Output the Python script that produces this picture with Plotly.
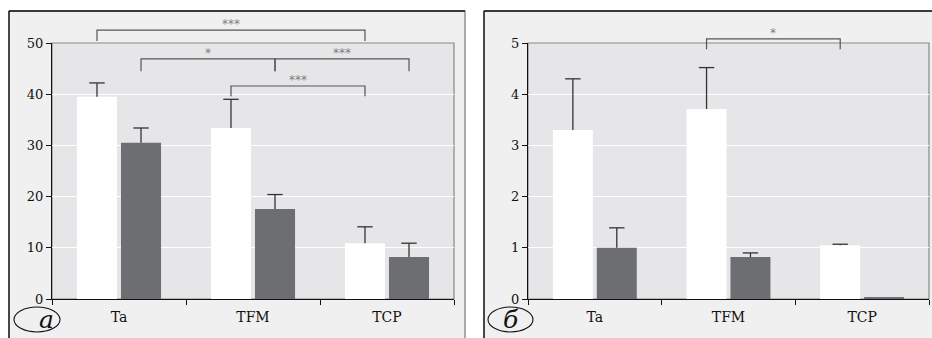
import plotly.graph_objects as go

# ---------------- data ----------------
categories = ["Ta", "TFM", "TCP"]

a_white = [39.5, 33.4, 10.9]
a_white_err = [2.7, 5.6, 3.2]
a_gray = [30.5, 17.6, 8.2]
a_gray_err = [2.9, 2.8, 2.7]
a_ticks = [0, 10, 20, 30, 40, 50]
a_max = 50

b_white = [3.30, 3.71, 1.05]
b_white_err = [1.00, 0.81, 0.02]
b_gray = [1.00, 0.82, 0.04]
b_gray_err = [0.39, 0.08, 0.0]
b_ticks = [0, 1, 2, 3, 4, 5]
b_max = 5

# significance brackets: (from category, from series, to category, to series, line level, leg level, label)
a_brackets = [
    (0, "w", 2, "w", 52.5, 50.4, "***"),
    (0, "g", 1, "g", 46.9, 44.5, "*"),
    (1, "g", 2, "g", 46.9, 44.5, "***"),
    (1, "w", 2, "w", 41.6, 39.6, "***"),
]
b_brackets = [
    (1, "w", 2, "w", 5.08, 4.88, "*"),
]
panel_labels = ["а", "б"]

# ---------------- style ----------------
W, H = 932, 338
WHITE = "#ffffff"
GRAY = "#6d6e71"
PANEL_BG = "#f0f0f0"
PLOT_BG = "#e6e6e8"
FONT = "DejaVu Serif"
BARGAP = 0.343
GROUPGAP = 0.09
OFF = (1 - BARGAP) / 4.0
ERRC = "#333333"


def px(x):
    return x / W


def py(y):
    return (H - y) / H


xdom1 = [px(52), px(454)]
xdom2 = [px(528), px(929)]
ydom = [py(299), py(43)]

fig = go.Figure()


def add_bars(vals_w, err_w, vals_g, err_g, xa, ya):
    for grp, vals, err, col in (("w", vals_w, err_w, WHITE), ("g", vals_g, err_g, GRAY)):
        fig.add_trace(go.Bar(
            x=categories, y=vals, xaxis=xa, yaxis=ya, offsetgroup=grp,
            marker=dict(color=col, line=dict(width=0)),
            showlegend=False, hoverinfo="skip",
        ))
    # one-sided error bars: cap marker at the top, line down to the bar top
    for grp, vals, err in (("w", vals_w, err_w), ("g", vals_g, err_g)):
        tops = [v + e if e > 0 else None for v, e in zip(vals, err)]
        fig.add_trace(go.Scatter(
            x=categories, y=tops, xaxis=xa, yaxis=ya, offsetgroup=grp,
            mode="markers",
            marker=dict(symbol="line-ew", size=11, color=ERRC,
                        line=dict(color=ERRC, width=1.3)),
            error_y=dict(type="data", symmetric=False, array=[0] * len(err),
                         arrayminus=err, color=ERRC, thickness=1.3, width=0),
            showlegend=False, hoverinfo="skip",
        ))


add_bars(a_white, a_white_err, a_gray, a_gray_err, "x", "y")
add_bars(b_white, b_white_err, b_gray, b_gray_err, "x2", "y2")

shapes = []
annotations = []

# panel backgrounds
shapes.append(dict(type="rect", xref="paper", yref="paper", x0=px(9), x1=px(465),
                   y0=py(345), y1=py(11), fillcolor=PANEL_BG,
                   line=dict(color="#777777", width=1.2), layer="below"))
shapes.append(dict(type="rect", xref="paper", yref="paper", x0=px(484), x1=px(940),
                   y0=py(345), y1=py(11), fillcolor=PANEL_BG,
                   line=dict(color="#777777", width=1.2), layer="below"))
# black left / top edges of panels
for x0, x1 in ((9, 465), (484, 940)):
    shapes.append(dict(type="line", xref="paper", yref="paper", x0=px(x0), x1=px(x0),
                       y0=py(345), y1=py(11), line=dict(color="#111111", width=1.3), layer="below"))
    shapes.append(dict(type="line", xref="paper", yref="paper", x0=px(x0), x1=px(x1),
                       y0=py(11), y1=py(11), line=dict(color="#111111", width=1.3), layer="below"))
# plot areas
for xd in (xdom1, xdom2):
    shapes.append(dict(type="rect", xref="paper", yref="paper", x0=xd[0], x1=xd[1],
                       y0=ydom[0], y1=ydom[1], fillcolor=PLOT_BG,
                       line=dict(color="#888888", width=1.2), layer="below"))


def add_brackets(brs, xa, ymax):
    yr = xa.replace("x", "y") + " domain"
    for c0, s0, c1, s1, yl, yg, lab in brs:
        x0 = c0 + (-OFF if s0 == "w" else OFF)
        x1 = c1 + (-OFF if s1 == "w" else OFF)
        t = yl / ymax
        g = yg / ymax
        shapes.append(dict(type="path", xref=xa, yref=yr,
                           path=f"M {x0},{g} L {x0},{t} L {x1},{t} L {x1},{g}",
                           line=dict(color="#555555", width=1.2)))
        annotations.append(dict(x=(x0 + x1) / 2, y=t, xref=xa, yref=yr,
                                text=lab, showarrow=False, yanchor="bottom", yshift=-3,
                                font=dict(family="DejaVu Sans", size=12, color="#808080")))


add_brackets(a_brackets, "x", a_max)
add_brackets(b_brackets, "x2", b_max)

# panel labels in ellipses
for lab, (ex0, ex1) in zip(panel_labels, ((14, 60), (488, 533))):
    shapes.append(dict(type="circle", xref="paper", yref="paper", x0=px(ex0), x1=px(ex1),
                       y0=py(332), y1=py(307), line=dict(color="#111111", width=1.1),
                       fillcolor="rgba(0,0,0,0)"))
    annotations.append(dict(x=px((ex0 + ex1) / 2), y=py(319), xref="paper", yref="paper",
                            text=f"<i>{lab}</i>", showarrow=False, yanchor="middle",
                            font=dict(family=FONT, size=25, color="#111111")))

axis_common = dict(showline=True, linecolor="#111111", linewidth=1.4,
                   ticks="outside", ticklen=5, tickcolor="#111111", tickwidth=1.2)

fig.update_layout(
    width=W, height=H, autosize=False,
    margin=dict(l=0, r=0, t=0, b=0, autoexpand=False),
    paper_bgcolor="#ffffff", plot_bgcolor="rgba(0,0,0,0)",
    barmode="group", bargap=BARGAP, bargroupgap=GROUPGAP,
    scattermode="group", scattergap=BARGAP,
    shapes=shapes, annotations=annotations,
    xaxis=dict(domain=xdom1, anchor="y", type="category", tickson="boundaries",
               showgrid=False, ticklabelstandoff=5,
               tickfont=dict(family=FONT, size=14, color="#111111"), **axis_common),
    xaxis2=dict(domain=xdom2, anchor="y2", type="category", tickson="boundaries",
                showgrid=False, ticklabelstandoff=5,
                tickfont=dict(family=FONT, size=14, color="#111111"), **axis_common),
    yaxis=dict(domain=ydom, anchor="x", range=[0, a_max], tickvals=a_ticks,
               showgrid=True, gridcolor="#ffffff", gridwidth=1.2, zeroline=False,
               tickfont=dict(family=FONT, size=13, color="#111111"), **axis_common),
    yaxis2=dict(domain=ydom, anchor="x2", range=[0, b_max], tickvals=b_ticks,
                showgrid=True, gridcolor="#ffffff", gridwidth=1.2, zeroline=False,
                tickfont=dict(family=FONT, size=13, color="#111111"), **axis_common),
)

fig.write_html("out.html", config={"displayModeBar": False},
               post_script="document.body.style.margin='0';")
